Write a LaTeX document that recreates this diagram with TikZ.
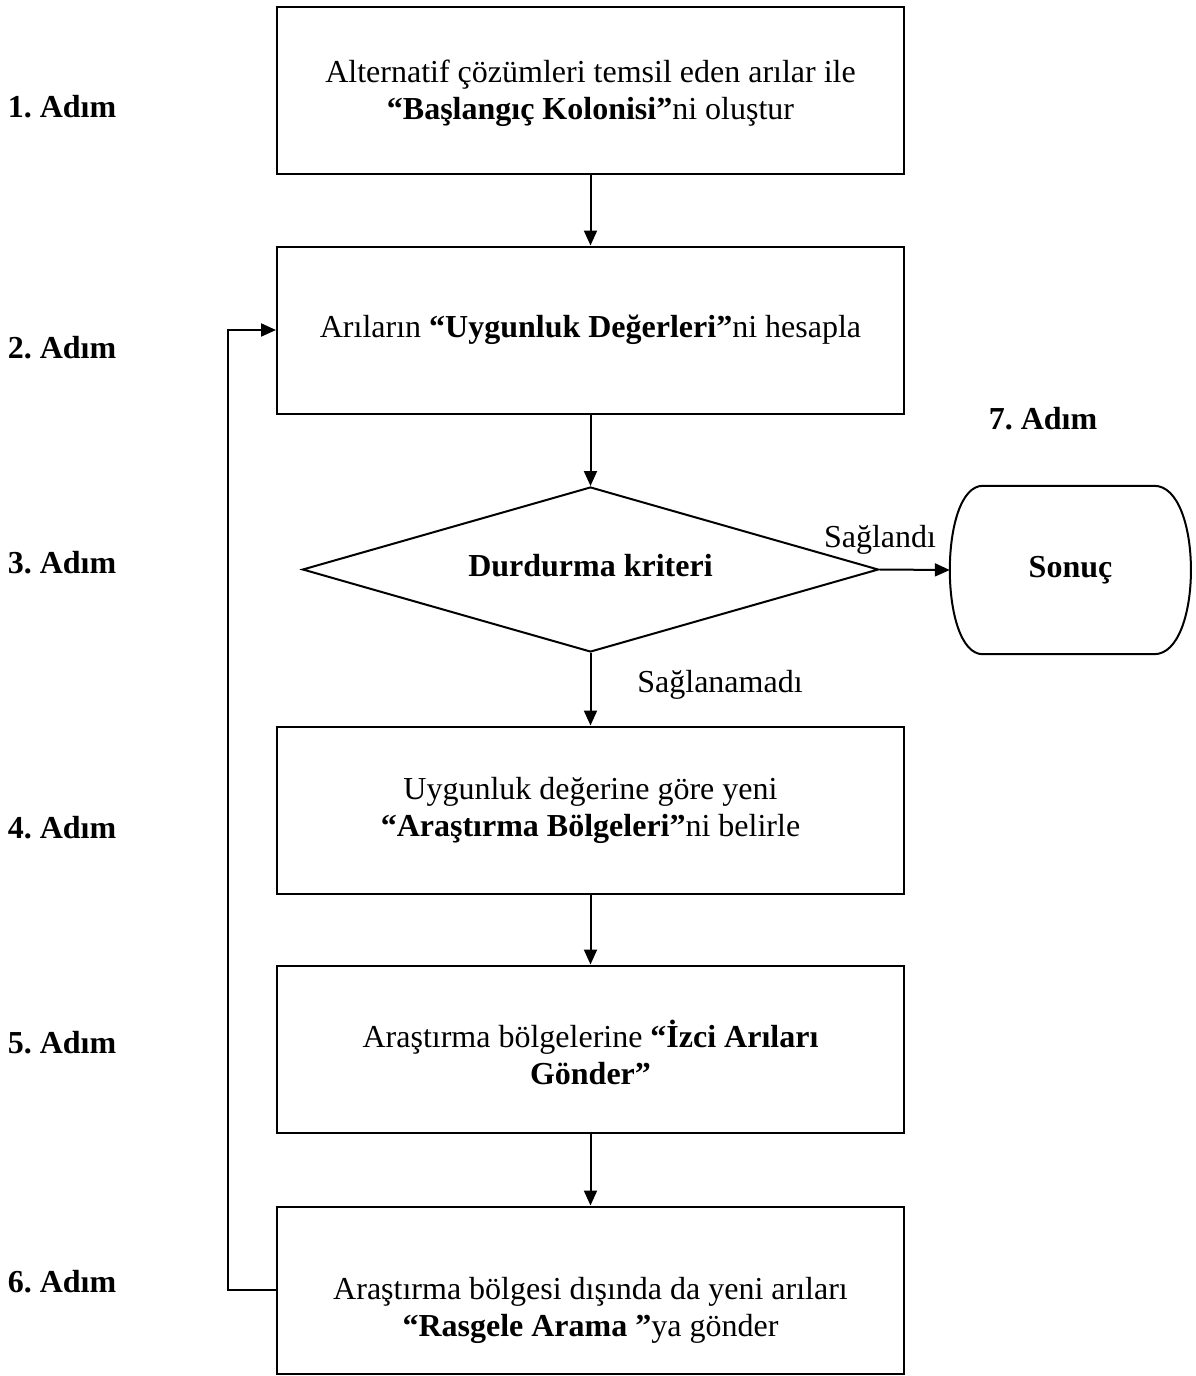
\documentclass[tikz,border=0pt]{standalone}
\usepackage{fontspec}
\setmainfont{Liberation Serif}
\usetikzlibrary{arrows.meta,shapes.geometric,calc}
\frenchspacing
\begin{document}
\begin{tikzpicture}[x=1pt,y=-1pt,
  every node/.style={font=\fontsize{32}{37}\selectfont},
  stepbox/.style={draw,line width=2pt,minimum width=627pt,minimum height=167pt,inner sep=0pt},
  txt/.style={align=center,inner sep=0pt},
  steplbl/.style={font=\fontsize{32}{37}\selectfont\bfseries,inner sep=0pt},
  arr/.style={line width=2pt,-{Triangle[length=15pt,width=13pt]}}]
\useasboundingbox (0,0) rectangle (1196,1376);

% process boxes
\node[stepbox] (b1) at (590.5,90) {};
\node[stepbox] (b2) at (590.5,330) {};
\node[draw,line width=2pt,diamond,minimum width=576pt,minimum height=165pt,inner sep=0pt] (dia) at (590.5,569.5) {};
\node[stepbox] (b4) at (590.5,810) {};
\node[stepbox] (b5) at (590.5,1049) {};
\node[stepbox] (b6) at (590.5,1290) {};

% box texts
\node[txt] (t1) at (590.5,93) {Alternatif çözümleri temsil eden arılar ile\\\textbf{“Başlangıç Kolonisi”}ni oluştur};
\node[txt] (t2) at (590.5,330) {Arıların \textbf{“Uygunluk Değerleri”}ni hesapla};
\node[txt] (t3) at (590.5,566) {\textbf{Durdurma kriteri}};
\node[txt] (t4) at (590.5,810) {Uygunluk değerine göre yeni\\\textbf{“Araştırma Bölgeleri”}ni belirle};
\node[txt] (t5) at (590.5,1052) {Araştırma bölgelerine \textbf{“İzci Arıları}\\\textbf{Gönder”}};
\node[txt] (t6) at (590.5,1310) {Araştırma bölgesi dışında da yeni arıları\\\textbf{“Rasgele Arama ”}ya gönder};

% terminal
\node[txt,minimum width=241pt,minimum height=168pt] (son) at (1070.5,570) {\textbf{Sonuç}};
\draw[line width=2pt]
  ($(son.north west)+(33,0)$) -- ($(son.north east)+(-37,0)$)
  .. controls ($(son.north east)+(12,0)$) and ($(son.south east)+(12,0)$) .. ($(son.south east)+(-37,0)$)
  -- ($(son.south west)+(33,0)$)
  .. controls ($(son.south west)+(-11,0)$) and ($(son.north west)+(-11,0)$) .. ($(son.north west)+(33,0)$) -- cycle;

% step labels
\node[steplbl] (s1) at (62,107) {1. Adım};
\node[steplbl] (s2) at (62,348) {2. Adım};
\node[steplbl] (s3) at (62,563) {3. Adım};
\node[steplbl] (s4) at (62,828) {4. Adım};
\node[steplbl] (s5) at (62,1043) {5. Adım};
\node[steplbl] (s6) at (62,1282) {6. Adım};
\node[steplbl] (s7) at (1043,419) {7. Adım};

% connectors
\draw[arr] (b1.south) -- (b2.north);
\draw[arr] (b2.south) -- (dia.north);
\draw[arr] (dia.south) -- (b4.north);
\draw[arr] (b4.south) -- (b5.north);
\draw[arr] (b5.south) -- (b6.north);
\draw[arr] (dia.east) -- (son.west);
\draw[arr] (b6.west) -- ++(-48,0) |- (b2.west);

% branch labels
\node[txt] (yes) at (880,540) {Sağlandı};
\node[txt] (no) at (720,685) {Sağlanamadı};
\end{tikzpicture}
\end{document}
